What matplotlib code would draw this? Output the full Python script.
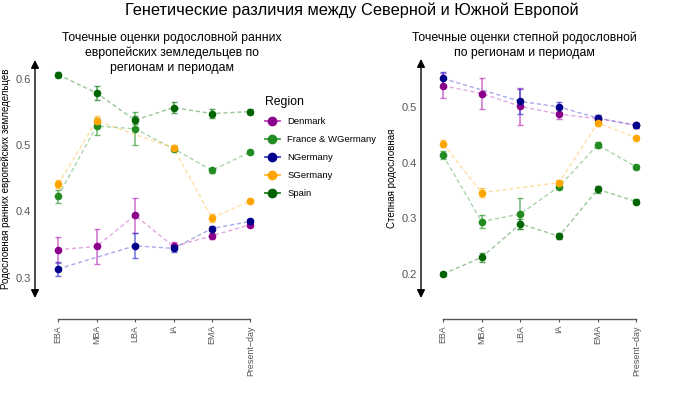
import numpy as np
import matplotlib
matplotlib.use('Agg')
import matplotlib.pyplot as plt
from matplotlib.lines import Line2D

plt.rcParams['font.family'] = ['Liberation Sans', 'DejaVu Sans']

periods = ['EBA', 'MBA', 'LBA', 'IA', 'EMA', 'Present\u2212day']
regions = ['Denmark', 'France & WGermany', 'NGermany', 'SGermany', 'Spain']
colors = ['#8B008B', '#228B22', '#00008B', '#FFA500', '#006400']
ecolors = ['#C040C0', '#40A040', '#4040D0', '#FFB830', '#208020']
nan = np.nan

# ранние европейские земледельцы
ef_denmark = [0.342, 0.347, 0.394, 0.347, 0.363, 0.380]
ef_denmark_err = [0.020, 0.026, 0.026, 0.006, 0.005, 0.003]
ef_france = [0.423, 0.529, 0.525, 0.495, 0.462, 0.490]
ef_france_err = [0.010, 0.013, 0.025, 0.004, 0.004, 0.003]
ef_ngermany = [0.313, nan, 0.348, 0.344, 0.374, 0.385]
ef_ngermany_err = [0.010, nan, 0.019, 0.005, 0.004, 0.003]
ef_sgermany = [0.441, 0.537, nan, 0.496, 0.390, 0.416]
ef_sgermany_err = [0.006, 0.008, nan, 0.005, 0.006, 0.003]
ef_spain = [0.607, 0.579, 0.538, 0.557, 0.548, 0.551]
ef_spain_err = [0.004, 0.011, 0.006, 0.008, 0.007, 0.004]

# степная родословная
st_denmark = [0.538, 0.524, 0.501, 0.487, 0.479, 0.467]
st_denmark_err = [0.022, 0.028, 0.033, 0.009, 0.006, 0.004]
st_france = [0.413, 0.294, 0.308, 0.357, 0.432, 0.392]
st_france_err = [0.007, 0.012, 0.028, 0.005, 0.005, 0.003]
st_ngermany = [0.551, nan, 0.510, 0.500, 0.480, 0.467]
st_ngermany_err = [0.011, nan, 0.022, 0.009, 0.005, 0.004]
st_sgermany = [0.434, 0.346, nan, 0.364, 0.471, 0.445]
st_sgermany_err = [0.006, 0.008, nan, 0.004, 0.005, 0.003]
st_spain = [0.200, 0.230, 0.290, 0.268, 0.352, 0.330]
st_spain_err = [0.004, 0.008, 0.009, 0.005, 0.006, 0.004]

ef_vals = [ef_denmark, ef_france, ef_ngermany, ef_sgermany, ef_spain]
ef_errs = [ef_denmark_err, ef_france_err, ef_ngermany_err, ef_sgermany_err, ef_spain_err]
st_vals = [st_denmark, st_france, st_ngermany, st_sgermany, st_spain]
st_errs = [st_denmark_err, st_france_err, st_ngermany_err, st_sgermany_err, st_spain_err]


def draw_panel(ax, vals, errs, yticks, ylim, xlim, ylabel):
    x = np.arange(len(periods))
    for v, e, c, ec in zip(vals, errs, colors, ecolors):
        v = np.array(v)
        e = np.array(e)
        ok = ~np.isnan(v)
        ax.plot(x[ok], v[ok], '--', color=ec, alpha=0.45, lw=1.0, dashes=(3, 2))
        ax.errorbar(x[ok], v[ok], yerr=e[ok], fmt='none', ecolor=ec,
                    alpha=0.75, elinewidth=1.1, capsize=2.5, capthick=1.0)
        ax.plot(x[ok], v[ok], 'o', color=c, ms=4.5, mec=c, zorder=5)
    ax.set_xlim(*xlim)
    ax.set_ylim(*ylim)
    for s in ['top', 'right', 'left']:
        ax.spines[s].set_visible(False)
    ax.spines['bottom'].set_position(('outward', 15))
    ax.spines['bottom'].set_bounds(0, len(periods) - 1)
    ax.spines['bottom'].set_color('#555555')
    ax.spines['bottom'].set_linewidth(1.0)
    ax.set_xticks(x)
    ax.set_xticklabels(periods, rotation=90, color='#555555', fontsize=6.4)
    ax.tick_params(axis='x', length=2.5, pad=2, color='#555555')
    ax.set_yticks(yticks)
    ax.set_yticklabels([str(t) for t in yticks], color='#555555', fontsize=8)
    ax.tick_params(axis='y', length=0, pad=3)
    ax.annotate('', xy=(0, 1), xytext=(0, 0), xycoords='axes fraction',
                arrowprops=dict(arrowstyle='<|-|>', color='black', lw=1.0,
                                mutation_scale=12, shrinkA=0, shrinkB=0))
    ax.set_ylabel(ylabel, fontsize=7, labelpad=3)


fig = plt.figure(figsize=(7, 3.94), dpi=100)
ax1 = fig.add_axes([35 / 700, 96 / 394, 227 / 700, 238 / 394])
ax2 = fig.add_axes([421 / 700, 96 / 394, 227 / 700, 239 / 394])

draw_panel(ax1, ef_vals, ef_errs, [0.3, 0.4, 0.5, 0.6], (0.269, 0.629), (-0.6, 5.3),
           'Родословная ранних европейских земледельцев')
draw_panel(ax2, st_vals, st_errs, [0.2, 0.3, 0.4, 0.5], (0.157, 0.586), (-0.57, 5.3),
           'Степная родословная')

fig.text(172 / 700, 1 - 31 / 394,
         'Точечные оценки родословной ранних\nевропейских земледельцев по\nрегионам и периодам',
         ha='center', va='top', fontsize=8.8, linespacing=1.35)
fig.text(524 / 700, 1 - 31 / 394,
         'Точечные оценки степной родословной\nпо регионам и периодам',
         ha='center', va='top', fontsize=8.8, linespacing=1.35)

fig.text(352 / 700, 1 - 10 / 394, 'Генетические различия между Северной и Южной Европой',
         ha='center', va='center', fontsize=11.8)

handles = [Line2D([0], [0], color=ec, lw=1.3, marker='o', ms=6, mfc=c, mec=c)
           for c, ec in zip(colors, ecolors)]
leg = fig.legend(handles, regions, loc='upper left', bbox_to_anchor=(256 / 700, 1 - 88 / 394),
                 frameon=False, title='Region', fontsize=6.8, title_fontsize=8.8,
                 handlelength=1.6, labelspacing=0.95, alignment='left')

fig.savefig('out.png', dpi=100)
